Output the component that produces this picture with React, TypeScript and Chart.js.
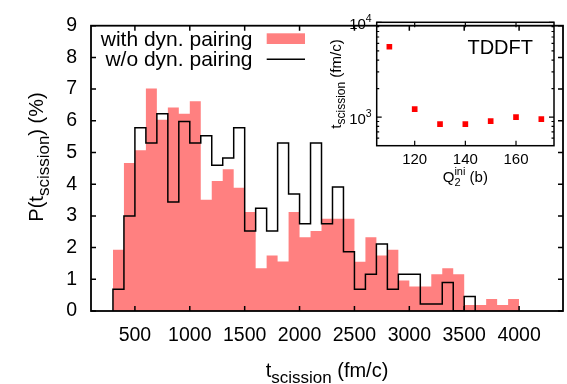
import React, { useEffect, useRef } from 'react';
import { Chart, registerables } from 'chart.js';

Chart.register(...registerables);

const FONT = '"Liberation Sans", Arial, Helvetica, sans-serif';

// ---- main histogram data (bins of 100 fm/c, left edges) ----
const binWidth = 100;
const withStarts = [
  300, 400, 500, 600, 700, 800, 900, 1000, 1100, 1200, 1300, 1400, 1500, 1600, 1700, 1800, 1900,
  2000, 2100, 2200, 2300, 2400, 2500, 2600, 2700, 2800, 2900, 3000, 3100, 3200, 3300, 3400, 3500,
  3600, 3700, 3800, 3900,
];
const withPairing = [
  1.93, 4.67, 5.07, 7.02, 6.03, 6.42, 6.22, 6.62, 3.51, 4.1, 4.47, 3.89, 3.12, 1.35, 1.75, 1.56, 3.12,
  2.33, 2.52, 2.91, 2.91, 2.91, 1.55, 2.33, 1.75, 1.93, 0.96, 0.77, 0.77, 1.16, 1.35, 1.16, 0.19,
  0.19, 0.38, 0.19, 0.38,
];
const withoutStarts = [
  300, 400, 500, 600, 700, 800, 900, 1000, 1100, 1200, 1300, 1400, 1500, 1600, 1700, 1800, 1900,
  2000, 2100, 2200, 2300, 2400, 2500, 2600, 2700, 2800, 2900, 3000, 3100, 3200, 3300, 3400, 3500,
];
const withoutPairing = [
  0.69, 3.0, 5.78, 5.3, 6.22, 3.44, 5.98, 5.3, 5.53, 4.6, 4.83, 5.78, 2.52, 3.24, 2.52, 5.3, 3.69,
  2.75, 5.3, 2.75, 3.91, 1.87, 0.69, 1.16, 2.11, 0.69, 1.16, 1.16, 0.22, 0.22, 0.9, 0.0, 0.46,
];
const xTicks = [500, 1000, 1500, 2000, 2500, 3000, 3500, 4000];
const yTicks = [0, 1, 2, 3, 4, 5, 6, 7, 8, 9];
const legendLabels = ['with dyn. pairing', 'w/o dyn. pairing'];

// ---- inset data ----
const q2ini = [110, 120, 130, 140, 150, 160, 170];
const tScission = [5520, 1216, 843, 843, 908, 1000, 952];
const insetXTicks = [120, 140, 160];
const insetYMajor = [1000, 10000];
const insetYMinor = [600, 700, 800, 900, 2000, 3000, 4000, 5000, 6000, 7000, 8000, 9000];

const PINK = 'rgb(255,128,128)';

function stepPoints(starts: number[], vals: number[]) {
  const pts: { x: number; y: number }[] = [{ x: starts[0], y: 0 }];
  starts.forEach((s, i) => pts.push({ x: s, y: vals[i] }));
  pts.push({ x: starts[starts.length - 1] + binWidth, y: 0 });
  return pts;
}

type Part = { t: string; size: number; dy: number };
function richWidth(ctx: CanvasRenderingContext2D, parts: Part[]) {
  let w = 0;
  for (const p of parts) {
    ctx.font = `${p.size}px ${FONT}`;
    w += ctx.measureText(p.t).width;
  }
  return w;
}
function drawRich(ctx: CanvasRenderingContext2D, parts: Part[], x: number, y: number) {
  let cx = x;
  ctx.textAlign = 'left';
  ctx.textBaseline = 'alphabetic';
  for (const p of parts) {
    ctx.font = `${p.size}px ${FONT}`;
    ctx.fillText(p.t, cx, y + p.dy);
    cx += ctx.measureText(p.t).width;
  }
}

const mainPlugin = {
  id: 'mainDecor',
  afterDraw(chart: any) {
    const { ctx, chartArea: a, scales } = chart;
    const x = scales.x;
    const y = scales.y;
    ctx.save();
    ctx.strokeStyle = '#000';
    ctx.lineWidth = 1.5;
    ctx.beginPath();
    const tl = 5;
    xTicks.forEach((v) => {
      const px = x.getPixelForValue(v);
      ctx.moveTo(px, a.bottom);
      ctx.lineTo(px, a.bottom - tl);
      ctx.moveTo(px, a.top);
      ctx.lineTo(px, a.top + tl);
    });
    yTicks.forEach((v) => {
      const py = y.getPixelForValue(v);
      ctx.moveTo(a.left, py);
      ctx.lineTo(a.left + tl, py);
      ctx.moveTo(a.right, py);
      ctx.lineTo(a.right - tl, py);
    });
    ctx.stroke();
    ctx.lineWidth = 1.8;
    ctx.strokeRect(a.left, a.top, a.right - a.left, a.bottom - a.top);

    ctx.fillStyle = '#000';
    // x title
    const xt: Part[] = [
      { t: 't', size: 20, dy: 0 },
      { t: 'scission', size: 17, dy: 6 },
      { t: ' (fm/c)', size: 20, dy: 0 },
    ];
    const xw = richWidth(ctx, xt);
    drawRich(ctx, xt, (a.left + a.right) / 2 - xw / 2, 377);
    // y title
    const yt: Part[] = [
      { t: 'P(t', size: 20, dy: 0 },
      { t: 'scission', size: 17, dy: 6 },
      { t: ') (%)', size: 20, dy: 0 },
    ];
    const yw = richWidth(ctx, yt);
    ctx.save();
    ctx.translate(43, 157);
    ctx.rotate(-Math.PI / 2);
    drawRich(ctx, yt, -yw / 2, 0);
    ctx.restore();

    // legend
    ctx.font = `21px ${FONT}`;
    ctx.textAlign = 'right';
    ctx.textBaseline = 'alphabetic';
    ctx.fillText(legendLabels[0], 252.5, 45.7);
    ctx.fillText(legendLabels[1], 252.5, 65.7);
    ctx.fillStyle = PINK;
    ctx.fillRect(266.7, 33.3, 38.3, 10.7);
    ctx.strokeStyle = '#000';
    ctx.lineWidth = 1.5;
    ctx.beginPath();
    ctx.moveTo(266.7, 59.3);
    ctx.lineTo(305, 59.3);
    ctx.stroke();
    ctx.restore();
  },
};

const insetPlugin = {
  id: 'insetDecor',
  afterDraw(chart: any) {
    const { ctx, chartArea: a, scales } = chart;
    const x = scales.x;
    const y = scales.y;
    ctx.save();
    ctx.strokeStyle = '#000';
    ctx.lineWidth = 1.2;
    ctx.beginPath();
    insetXTicks.forEach((v) => {
      const px = x.getPixelForValue(v);
      ctx.moveTo(px, a.bottom);
      ctx.lineTo(px, a.bottom - 5);
      ctx.moveTo(px, a.top);
      ctx.lineTo(px, a.top + 5);
    });
    insetYMajor.forEach((v) => {
      const py = y.getPixelForValue(v);
      ctx.moveTo(a.left, py);
      ctx.lineTo(a.left + 5, py);
      ctx.moveTo(a.right, py);
      ctx.lineTo(a.right - 5, py);
    });
    insetYMinor.forEach((v) => {
      const py = y.getPixelForValue(v);
      ctx.moveTo(a.left, py);
      ctx.lineTo(a.left + 2.5, py);
      ctx.moveTo(a.right, py);
      ctx.lineTo(a.right - 2.5, py);
    });
    ctx.stroke();
    ctx.lineWidth = 1.5;
    ctx.strokeRect(a.left, a.top, a.right - a.left, a.bottom - a.top);

    ctx.fillStyle = '#000';
    // y tick labels 10^n
    insetYMajor.forEach((v) => {
      const py = y.getPixelForValue(v);
      const exp = String(Math.round(Math.log10(v)));
      ctx.font = `15px ${FONT}`;
      const w1 = ctx.measureText('10').width;
      ctx.font = `10.5px ${FONT}`;
      const w2 = ctx.measureText(exp).width;
      const right = a.left - 5;
      drawRich(
        ctx,
        [
          { t: '10', size: 15, dy: 0 },
          { t: exp, size: 10.5, dy: -7 },
        ],
        right - w1 - w2,
        py + 7
      );
    });

    // TDDFT label
    ctx.font = `20px ${FONT}`;
    ctx.textAlign = 'right';
    ctx.textBaseline = 'alphabetic';
    ctx.fillText('TDDFT', a.right - 21, a.top + 32);

    // x title: Q_2^ini (b)
    ctx.font = `15px ${FONT}`;
    const wQ = ctx.measureText('Q').width;
    ctx.font = `11px ${FONT}`;
    const wSub = ctx.measureText('2').width;
    const wSup = ctx.measureText('ini').width;
    ctx.font = `15px ${FONT}`;
    const wRest = ctx.measureText(' (b)').width;
    const total = wQ + Math.max(wSub, wSup) + wRest;
    let cx = (a.left + a.right) / 2 - total / 2;
    const base = 182;
    ctx.textAlign = 'left';
    ctx.font = `15px ${FONT}`;
    ctx.fillText('Q', cx, base);
    cx += wQ;
    ctx.font = `11px ${FONT}`;
    ctx.fillText('2', cx, base + 4);
    ctx.fillText('ini', cx, base - 7);
    cx += Math.max(wSub, wSup);
    ctx.font = `15px ${FONT}`;
    ctx.fillText(' (b)', cx, base);

    // y title
    const yt: Part[] = [
      { t: 't', size: 15, dy: 0 },
      { t: 'scission', size: 12, dy: 4 },
      { t: ' (fm/c)', size: 15, dy: 0 },
    ];
    const yw = richWidth(ctx, yt);
    ctx.save();
    ctx.translate(341 - 320, (a.top + a.bottom) / 2);
    ctx.rotate(-Math.PI / 2);
    drawRich(ctx, yt, -yw / 2, 0);
    ctx.restore();
    ctx.restore();
  },
};

export default function App() {
  const mainRef = useRef<HTMLCanvasElement>(null);
  const insetRef = useRef<HTMLCanvasElement>(null);

  useEffect(() => {
    const main = new Chart(mainRef.current as HTMLCanvasElement, {
      type: 'line',
      data: {
        datasets: [
          {
            label: legendLabels[0],
            data: stepPoints(withStarts, withPairing),
            stepped: 'before',
            fill: 'origin',
            backgroundColor: PINK,
            borderWidth: 0,
            borderColor: 'rgba(0,0,0,0)',
            pointRadius: 0,
            order: 2,
          },
          {
            label: legendLabels[1],
            data: stepPoints(withoutStarts, withoutPairing),
            stepped: 'before',
            fill: false,
            borderColor: '#000',
            borderWidth: 1.5,
            pointRadius: 0,
            order: 1,
          },
        ],
      },
      options: {
        animation: false,
        responsive: false,
        devicePixelRatio: 1,
        parsing: false,
        layout: { padding: { top: 12, right: 4, left: 0, bottom: 0 } },
        plugins: { legend: { display: false }, tooltip: { enabled: false } },
        scales: {
          x: {
            type: 'linear',
            min: 100,
            max: 4400,
            grid: { display: false, drawTicks: false },
            border: { display: false },
            afterBuildTicks: (s: any) => {
              s.ticks = xTicks.map((v) => ({ value: v }));
            },
            afterFit: (s: any) => {
              s.height = 73;
            },
            ticks: {
              font: { family: FONT, size: 19.5 },
              color: '#000',
              padding: 13,
              maxRotation: 0,
              autoSkip: false,
              callback: (v: any) => String(v),
            },
          },
          y: {
            type: 'linear',
            min: 0,
            max: 9,
            grid: { display: false, drawTicks: false },
            border: { display: false },
            afterBuildTicks: (s: any) => {
              s.ticks = yTicks.map((v) => ({ value: v }));
            },
            afterFit: (s: any) => {
              s.width = 91;
            },
            ticks: {
              font: { family: FONT, size: 19.5 },
              color: '#000',
              padding: 14,
              callback: (v: any) => String(v),
            },
          },
        },
      },
      plugins: [mainPlugin],
    } as any);

    const inset = new Chart(insetRef.current as HTMLCanvasElement, {
      type: 'scatter',
      data: {
        datasets: [
          {
            data: q2ini.map((q, i) => ({ x: q, y: tScission[i] })),
            pointStyle: 'rect',
            pointRadius: 4,
            pointBorderWidth: 0,
            backgroundColor: 'rgb(255,0,0)',
            borderColor: 'rgb(255,0,0)',
          },
        ],
      },
      options: {
        animation: false,
        responsive: false,
        devicePixelRatio: 1,
        layout: { padding: { top: 22.3, right: 13, left: 0, bottom: 0 } },
        plugins: { legend: { display: false }, tooltip: { enabled: false } },
        scales: {
          x: {
            type: 'linear',
            min: 105,
            max: 175,
            grid: { display: false, drawTicks: false },
            border: { display: false },
            afterBuildTicks: (s: any) => {
              s.ticks = insetXTicks.map((v) => ({ value: v }));
            },
            afterFit: (s: any) => {
              s.height = 54.3;
            },
            ticks: {
              font: { family: FONT, size: 15 },
              color: '#000',
              padding: 5,
              maxRotation: 0,
              autoSkip: false,
              callback: (v: any) => String(v),
            },
          },
          y: {
            type: 'logarithmic',
            min: 500,
            max: 10000,
            grid: { display: false, drawTicks: false },
            border: { display: false },
            ticks: { display: false },
            afterFit: (s: any) => {
              s.width = 56.7;
            },
          },
        },
      },
      plugins: [insetPlugin],
    } as any);

    return () => {
      main.destroy();
      inset.destroy();
    };
  }, []);

  return (
    <div style={{ position: 'absolute', left: 0, top: 0, width: 567, height: 384, background: '#fff' }}>
      <canvas
        ref={mainRef}
        width={567}
        height={384}
        style={{ position: 'absolute', left: 0, top: 0, width: 567, height: 384 }}
      />
      <canvas
        ref={insetRef}
        width={247}
        height={200}
        style={{ position: 'absolute', left: 320, top: 0, width: 247, height: 200 }}
      />
    </div>
  );
}
